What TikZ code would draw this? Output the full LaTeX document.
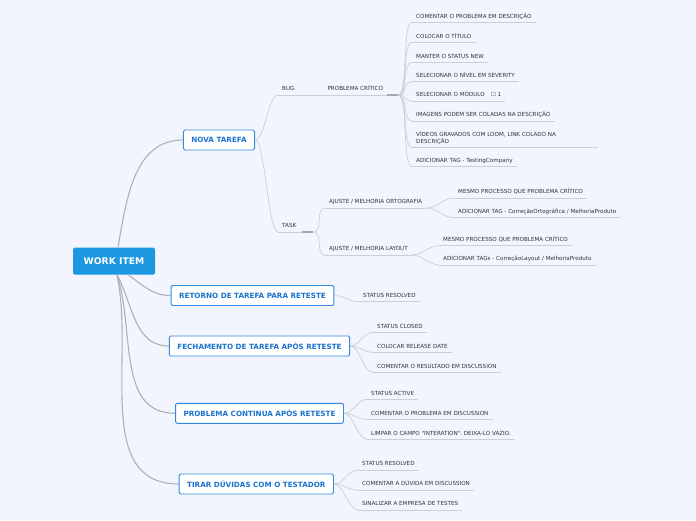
\documentclass[tikz,border=0pt]{standalone}
\usepackage{fontspec}
\setmainfont{DejaVu Sans}

\definecolor{paper}{HTML}{F2F5FD}
\definecolor{rootblue}{HTML}{1B98E0}
\definecolor{topicblue}{HTML}{3388E0}
\definecolor{topictext}{HTML}{1A73CC}
\definecolor{leaftext}{HTML}{333333}
\definecolor{twig}{HTML}{CACED6}
\definecolor{trunkgray}{HTML}{B0B0B0}
\definecolor{knobgray}{HTML}{A9A9A9}

\begin{document}
\begin{tikzpicture}[x=1pt,y=-1pt,
  root/.style={fill=rootblue, rounded corners=1.5pt, text=white,
    font=\fontsize{9.2}{10}\selectfont\bfseries, minimum width=82pt, minimum height=27pt},
  topic/.style={draw=topicblue, fill=white, line width=0.9pt, rounded corners=1.5pt,
    text=topictext, font=\fontsize{7.2}{8}\selectfont\bfseries, inner xsep=8pt, minimum height=20pt},
  leaf/.style={anchor=south west, inner xsep=4pt, inner ysep=2pt, text height=4.2pt,
    text depth=2.1pt, text=leaftext, font=\fontsize{5.6}{6.5}\selectfont,
    append after command={(\tikzlastnode.south west) edge[uline] (\tikzlastnode.south east)}},
  uline/.style={draw=twig, line width=0.7pt},
  trunk/.style={draw=trunkgray, line width=1.1pt},
  branch/.style={draw=twig, line width=0.7pt,
    to path={.. controls +(10,0) and +(-10,0) .. (\tikztotarget)}},
  knob/.style={draw=knobgray, line width=1.6pt}]
\useasboundingbox (0,0) rectangle (696,520);
\fill[paper] (0,0) rectangle (696,520);

\node[root] (wi) at (114,261) {WORK ITEM};
\node[topic] (nt) at (219,140) {NOVA TAREFA};
\node[topic] (rr) at (252.5,295.5) {RETORNO DE TAREFA PARA RETESTE};
\node[topic] (fr) at (259.5,346) {FECHAMENTO DE TAREFA APÓS RETESTE};
\node[topic] (cont) at (259.5,413.3) {PROBLEMA CONTINUA APÓS RETESTE};
\node[topic] (td) at (256.3,484) {TIRAR DÚVIDAS COM O TESTADOR};

\draw[trunk] ([xshift=4pt]wi.north) to[out=80,in=180] (nt.west);
\draw[trunk] ([xshift=14pt]wi.south) to[out=-35,in=180] (rr.west);
\draw[trunk] ([xshift=3pt]wi.south) to[out=-62,in=180] (fr.west);
\draw[trunk] ([xshift=3pt]wi.south) to[out=-72,in=180] (cont.west);
\draw[trunk] ([xshift=3pt]wi.south) to[out=-78,in=180] (td.west);

% nova tarefa
\node[leaf, text width=37pt] (bug) at (278,95) {BUG};
\node[leaf] (crit) at (bug.south east) {PROBLEMA CRÍTICO};
\draw[knob] (crit.south east) -- ++(11,0) coordinate (critend);
\node[leaf] (c1) at (412,22.3) {COMENTAR O PROBLEMA EM DESCRIÇÃO};
\node[leaf] (c2) at (412,42.3) {COLOCAR O TÍTULO};
\node[leaf] (c3) at (412,62.3) {MANTER O STATUS NEW};
\node[leaf] (c4) at (412,81.7) {SELECIONAR O NÍVEL EM SEVERITY};
\node[leaf] (c5) at (412,101) {SELECIONAR O MÓDULO\hspace{6pt}☐ 1};
\node[leaf] (c6) at (412,121) {IMAGENS PODEM SER COLADAS NA DESCRIÇÃO};
\node[leaf, text width=178pt, align=left, text depth=8.6pt] (c7) at (412,147.3)
  {VÍDEOS GRAVADOS COM LOOM, LINK COLADO NA\\DESCRIÇÃO};
\node[leaf] (c8) at (412,166.7) {ADICIONAR TAG - TestingCompany};

\node[leaf, text width=16pt] (task) at (278,232) {TASK};
\draw[knob] (task.south east) -- ++(11,0) coordinate (taskend);
\node[leaf] (ort) at (325,208) {AJUSTE / MELHORIA ORTOGRAFIA};
\node[leaf] (o1) at (454,198) {MESMO PROCESSO QUE PROBLEMA CRÍTICO};
\node[leaf] (o2) at (454,217.7) {ADICIONAR TAG - CorreçãoOrtográfica / MelhoriaProduto};
\node[leaf] (lay) at (325,255) {AJUSTE / MELHORIA LAYOUT};
\node[leaf] (l1) at (439,245.7) {MESMO PROCESSO QUE PROBLEMA CRÍTICO};
\node[leaf] (l2) at (439,265) {ADICIONAR TAGs - CorreçãoLayout / MelhoriaProduto};

\path (nt.east) edge[branch] (bug.south west) edge[branch] (task.south west);
\path (critend) edge[branch] (c1.south west) edge[branch] (c2.south west)
  edge[branch] (c3.south west) edge[branch] (c4.south west)
  edge[branch] (c5.south west) edge[branch] (c6.south west)
  edge[branch] (c7.south west) edge[branch] (c8.south west);
\path (taskend) edge[branch] (ort.south west) edge[branch] (lay.south west);
\path (ort.south east) edge[branch] (o1.south west) edge[branch] (o2.south west);
\path (lay.south east) edge[branch] (l1.south west) edge[branch] (l2.south west);

% retorno
\node[leaf] (r1) at (359,301.7) {STATUS RESOLVED};
\path (rr.east) edge[branch] (r1.south west);

% fechamento
\node[leaf] (f1) at (373,332.3) {STATUS CLOSED};
\node[leaf] (f2) at (373,352.3) {COLOCAR RELEASE DATE};
\node[leaf] (f3) at (373,372.3) {COMENTAR O RESULTADO EM DISCUSSION};
\path (fr.east) edge[branch] (f1.south west) edge[branch] (f2.south west)
  edge[branch] (f3.south west);

% problema continua
\node[leaf] (p1) at (367,399.3) {STATUS ACTIVE};
\node[leaf] (p2) at (367,419.3) {COMENTAR O PROBLEMA EM DISCUSSION};
\node[leaf] (p3) at (367,439.3) {LIMPAR O CAMPO \textquotedbl INTERATION\textquotedbl. DEIXA-LO VAZIO.};
\path (cont.east) edge[branch] (p1.south west) edge[branch] (p2.south west)
  edge[branch] (p3.south west);

% duvidas
\node[leaf] (d1) at (358,470) {STATUS RESOLVED};
\node[leaf] (d2) at (358,490) {COMENTAR A DÚVIDA EM DISCUSSION};
\node[leaf] (d3) at (358,510) {SINALIZAR A EMPRESA DE TESTES};
\path (td.east) edge[branch] (d1.south west) edge[branch] (d2.south west)
  edge[branch] (d3.south west);
\end{tikzpicture}
\end{document}
